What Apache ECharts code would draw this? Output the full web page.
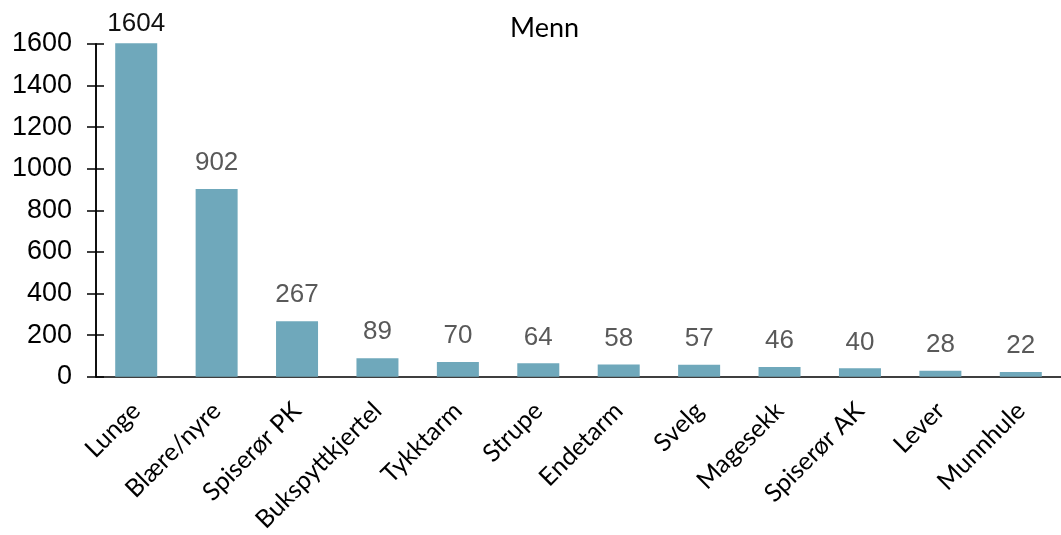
<!DOCTYPE html>
<html>
<head>
<meta charset="utf-8">
<script src="https://cdn.jsdelivr.net/npm/echarts@6/dist/echarts.min.js"></script>
<style>
  html, body { margin: 0; padding: 0; background: #fff; }
  #chart { width: 1061px; height: 535px; }
</style>
</head>
<body>
<div id="chart"></div>
<script>
let categories = ['Lunge', 'Blære/nyre', 'Spiserør PK', 'Bukspyttkjertel', 'Tykktarm', 'Strupe',
  'Endetarm', 'Svelg', 'Magesekk', 'Spiserør AK', 'Lever', 'Munnhule']
let values = [1604, 902, 267, 89, 70, 64, 58, 57, 46, 40, 28, 22]
let yTicks = [0, 200, 400, 600, 800, 1000, 1200, 1400, 1600]

let chart = echarts.init(document.getElementById('chart'))
let yBase = {
  type: 'value',
  min: yTicks[0],
  max: yTicks[yTicks.length - 1],
  interval: 200,
  position: 'left',
  splitLine: { show: false },
  axisLine: { show: true, lineStyle: { color: '#000', width: 1.5 } }
}
// the tallest bar reaches the top, its label sits closer and in black
let barData = values.map((v, i) => i === 0
  ? { value: v, label: { distance: 6, color: '#111' } }
  : v)

chart.setOption({
  animation: false,
  title: {
    text: 'Menn',
    left: 505,
    top: 10,
    textStyle: { fontFamily: 'Lato', fontWeight: 'normal', fontSize: 27, color: '#000' }
  },
  grid: { left: 96, right: -13, top: 44, bottom: 157, containLabel: false },
  xAxis: {
    type: 'category',
    data: categories,
    axisTick: { show: false },
    axisLine: { lineStyle: { color: '#000', width: 1.5 } },
    axisLabel: {
      rotate: 45,
      interval: 0,
      margin: 30,
      fontFamily: 'Lato',
      fontSize: 25,
      color: '#000'
    }
  },
  yAxis: [
    Object.assign({}, yBase, {
      axisTick: { show: true, length: 9, lineStyle: { color: '#000', width: 1.5 } },
      axisLabel: {
        margin: 24,
        fontFamily: 'Liberation Sans',
        fontSize: 27,
        color: '#000',
        formatter: v => String(v)
      }
    }),
    Object.assign({}, yBase, {
      axisTick: { show: true, inside: true, length: 8, lineStyle: { color: '#000', width: 1.5 } },
      axisLabel: { show: false }
    })
  ],
  series: [{
    type: 'bar',
    data: barData,
    barWidth: 42,
    clip: false,
    itemStyle: { color: '#6fa8bb' },
    label: {
      show: true,
      position: 'top',
      distance: 13,
      fontFamily: 'Liberation Sans',
      fontSize: 26,
      color: '#595959'
    }
  }]
})
</script>
</body>
</html>
